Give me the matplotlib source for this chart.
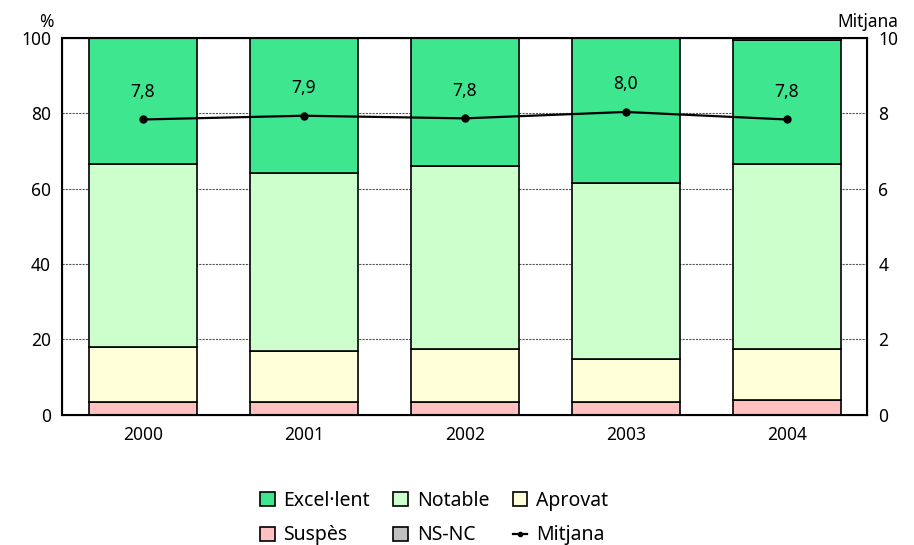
import numpy as np
import matplotlib.pyplot as plt

plt.rcParams['font.family'] = ['Noto Sans', 'DejaVu Sans']

anys = ['2000', '2001', '2002', '2003', '2004']
suspes = [3.5, 3.5, 3.5, 3.5, 4.0]
aprovat = [14.5, 13.5, 14.0, 11.3, 13.5]
notable = [48.6, 47.2, 48.5, 46.7, 49.1]
ns_nc = [0.0, 0.0, 0.0, 0.0, 0.5]
excellent = [100 - s - a - n - x for s, a, n, x in zip(suspes, aprovat, notable, ns_nc)]
mitjana = [7.84, 7.94, 7.87, 8.04, 7.84]
etiquetes_mitjana = ['7,8', '7,9', '7,8', '8,0', '7,8']

colors = {
    'Excel·lent': '#3de68f',
    'Notable': '#ccffcc',
    'Aprovat': '#ffffd9',
    'Suspès': '#ffc0c0',
    'NS-NC': '#c0c0c0',
}

fig = plt.figure(figsize=(9.14, 5.45), dpi=100)
ax = fig.add_axes([0.068, 0.239, 0.881, 0.691])
x = np.arange(len(anys))
w = 0.67

capes = [('Suspès', suspes), ('Aprovat', aprovat), ('Notable', notable),
         ('Excel·lent', excellent), ('NS-NC', ns_nc)]
bottom = np.zeros(len(anys))
handles = {}
for nom, vals in capes:
    b = ax.bar(x, vals, w, bottom=bottom, color=colors[nom], edgecolor='black',
               linewidth=1.2, label=nom, zorder=2)
    handles[nom] = b
    bottom += np.array(vals)

ax.set_xlim(-0.5, len(anys) - 0.5)
ax.set_ylim(0, 100)
ax.set_yticks(range(0, 101, 20))
ax.set_xticks(x)
ax.set_xticklabels(anys)
ax.yaxis.grid(True, linestyle=(0, (2, 1)), color='#555555', linewidth=0.8, zorder=0)
ax.set_axisbelow(True)
for sp in ax.spines.values():
    sp.set_linewidth(1.5)
ax.tick_params(axis='both', labelsize=12.5, length=0, pad=8)
ax.text(-0.01, 1.02, '%', transform=ax.transAxes, ha='right', va='bottom', fontsize=12.5)

ax2 = ax.twinx()
ax2.set_ylim(0, 10)
ax2.set_yticks(range(0, 11, 2))
ax2.tick_params(axis='y', labelsize=12.5, length=0, pad=8)
ln, = ax2.plot(x, mitjana, color='black', linewidth=1.6, marker='o', markersize=5,
               label='Mitjana', zorder=3)
for xi, yi, t in zip(x, mitjana, etiquetes_mitjana):
    ax2.text(xi, yi + 0.5, t, ha='center', va='bottom', fontsize=12.5)
ax2.text(1.0, 1.02, 'Mitjana', transform=ax.transAxes, ha='center', va='bottom', fontsize=12.5)

ordre = ['Excel·lent', 'Suspès', 'Notable', 'NS-NC', 'Aprovat']
hs = [handles[n] for n in ordre] + [ln]
ls = ordre + ['Mitjana']
fig.legend(hs, ls, loc='lower center', bbox_to_anchor=(0.475, -0.033), ncol=3,
           frameon=False, fontsize=14, handlelength=0.75, handleheight=0.75,
           handletextpad=0.45, columnspacing=1.2, labelspacing=0.75, markerscale=0.6)

fig.savefig('out.png', dpi=100)
